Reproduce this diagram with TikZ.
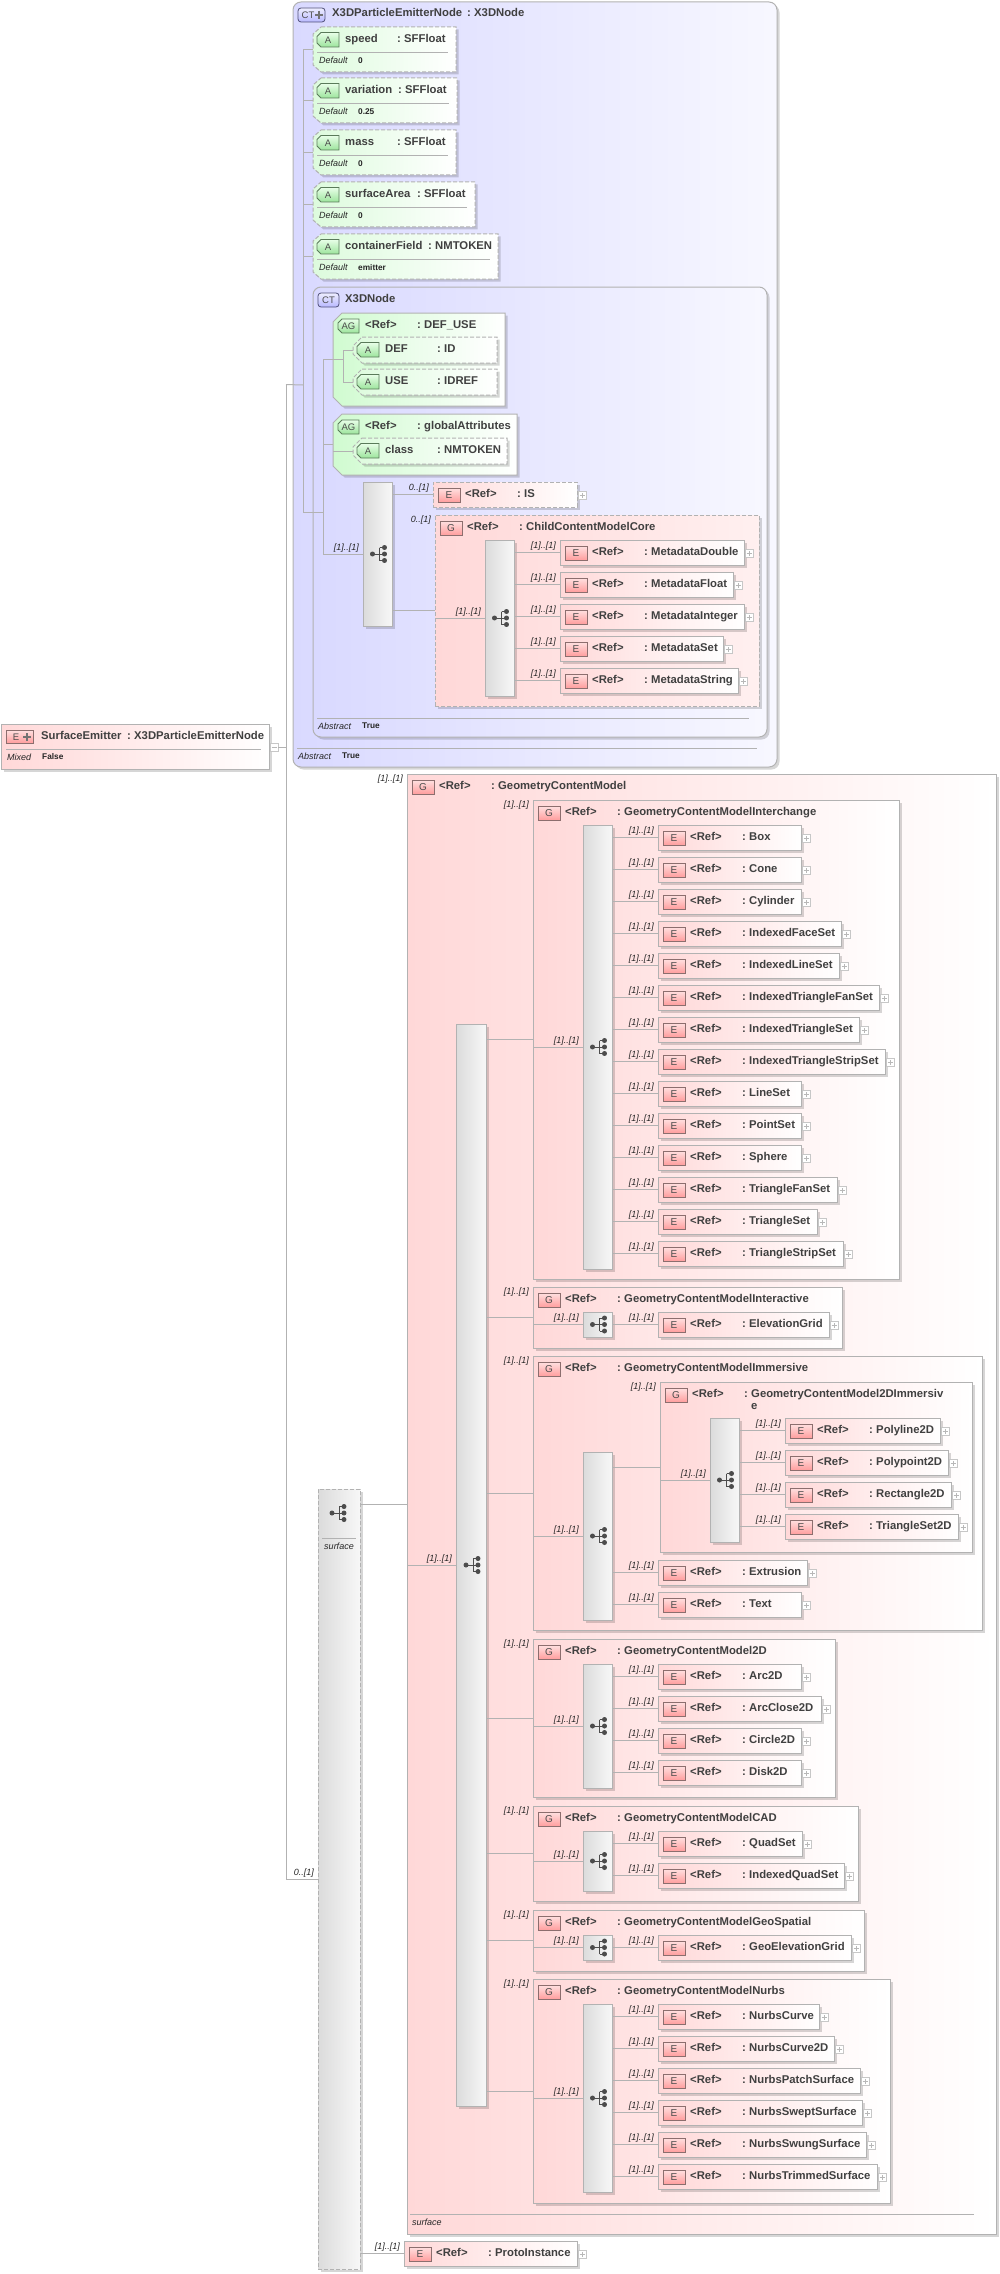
\documentclass[tikz,border=0pt]{standalone}
\usepackage{fontspec}
\setmainfont{Liberation Sans}
\usetikzlibrary{shadows}
\definecolor{boxLine}{HTML}{B2B2B2}
\definecolor{titleText}{HTML}{404040}
\definecolor{pinkLeft}{HTML}{FFD8D8}
\definecolor{blueLeft}{HTML}{D9D9FF}
\definecolor{greenLeft}{HTML}{D0FBD0}
\definecolor{attrLeft}{HTML}{DDFBDD}
%% A box from its two corners.
\newcommand{\boxNode}[7]{%%
  \pgfmathsetmacro{\boxW}{(#5)-(#3)}
  \pgfmathsetmacro{\boxH}{(#6)-(#4)}
  \node[#1,minimum width=\boxW pt,minimum height=\boxH pt] (#2) at ({((#3)+(#5))/2},{((#4)+(#6))/2}) {#7};
}
%% The same with its left corners cut off.
\newcommand{\chamferNode}[9]{%%
  \draw[#1] ({(#3)+#7},{#4}) -- ({#5},{#4}) -- ({#5},{#6}) -- ({(#3)+#7},{#6}) -- ({#3},{(#6)-#8}) -- ({#3},{(#4)+#8}) -- cycle;
  \boxNode{letterStyle}{#2}{#3}{#4}{#5}{#6}{#9}
}
\newcommand{\cardText}{[1]..[1]}
\newcommand{\attrCutX}{8}
\newcommand{\attrCutY}{7}
%% Left column, colon and right column of a title row.
\newcommand{\titleRow}[6]{%%
  \node[titleStyle] (#1-left) at (#2,#4) {#5};
  \node[titleStyle] (#1-colon) at (#3,#4) {:};
  \node[titleStyle] (#1-right) at ({#3+7},#4) {#6};
}
\newcommand{\refTitle}[4]{%%
  \boxNode{badgeStyle}{#1-badge}{#2+5}{#3+6}{#2+27}{#3+20}{#4}
}
\newcommand{\refElement}[6]{%%
  \boxNode{#1}{#2}{#3}{#4}{#5}{#4+25}{}
  \refTitle{#2}{#3}{#4}{E}
  \titleRow{#2}{#3+32}{#3+84}{#4+15}{<Ref>}{#6}
  \node[plusStyle] (#2-plus) at ({#5+5},{#4+13}) {};
}
\newcommand{\refGroup}[7]{%%
  \boxNode{#1}{#2}{#3}{#4}{#5}{#6}{}
  \refTitle{#2}{#3}{#4}{G}
  \titleRow{#2}{#3+32}{#3+84}{#4+15}{<Ref>}{#7}
}
\newcommand{\stemLink}[2]{%%
  \draw[lineStyle] (#1.east |- #2.west) -- (#2.west);
}
\newcommand{\cardLabel}[2]{%%
  \node[cardStyle] (#1-card) at ([xshift=-4pt,yshift=6pt]#1.west) {#2};
}
\newcommand{\cardTop}[2]{%%
  \node[cardStyle] (#1-card) at ([xshift=-4pt,yshift=-5pt]#1.north west) {#2};
}
\newcommand{\seqElement}[6]{%%
  \refElement{elementStyle}{#2}{#3}{#4}{#5}{#6}
  \stemLink{#1}{#2}
  \cardLabel{#2}{\cardText}
}
\newcommand{\seqGroup}[7]{%%
  \refGroup{groupStyle}{#2}{#3}{#4}{#5}{#6}{#7}
  \stemLink{#1}{#2}
  \cardTop{#2}{\cardText}
}
\newcommand{\seqIcon}[2]{%%
  \begin{scope}[shift={(#2)}]
    \draw[iconStyle] (-5,0) -- (2,0) (2,-6.5) -- (2,6.5) (2,-6.5) -- (7,-6.5) (2,0) -- (7,0) (2,6.5) -- (7,6.5);
    \fill[iconStyle] (-5,0) circle [radius=2pt] (7,-6.5) circle [radius=2pt] (7,0) circle [radius=2pt] (7,6.5) circle [radius=2pt];
  \end{scope}
}
\newcommand{\seqBlock}[6]{%%
  \boxNode{seqStyle}{#2}{#3}{#4}{#5}{#6}{}
  \seqIcon{#2}{#2.center}
  \draw[lineStyle] (#1.west |- #2.west) -- (#2.west);
  \cardLabel{#2}{\cardText}
}
%% An attribute head: the box, its badge and its row.
\newcommand{\attrHead}[9]{%%
  \chamferNode{attrStyle}{#1}{#2}{#3}{#4}{#5}{\attrCutX}{\attrCutY}{}
  \chamferNode{attrBadgeStyle}{#1-badge}{#2+4}{#3+5.5}{#2+26}{#3+20}{4}{4}{A}
  \titleRow{#1}{#2+32}{#2+#8}{#3+15.5}{#6}{#7}
  \draw[lineStyle] (#9 |- #1.west) -- (#1.west);
}
\newcommand{\defaultRow}[5]{%%
  \draw[lineStyle] ({#2+4},{#3+26}) -- ({#4-8},{#3+26});
  \node[noteStyle] (#1-key) at ({#2+6},{#3+37}) {Default};
  \node[valueStyle] (#1-value) at ({#2+45},{#3+36.5}) {#5};
}

\begin{document}
\begin{tikzpicture}[%%
  x=1pt,y=-1pt,%%
  shadowStyle/.style={drop shadow={shadow xshift=2.5pt,shadow yshift=-2.5pt,fill=black,opacity=.16}},%%
  dashStyle/.style={dash pattern=on 4pt off 2pt},%%
  lineStyle/.style={draw=boxLine,line width=1pt},%%
  boxStyle/.style={rectangle,lineStyle,inner sep=0pt,outer sep=0pt,shadowStyle},%%
  elementStyle/.style={boxStyle,left color=pinkLeft,right color=white},%%
  elementDashStyle/.style={elementStyle,dashStyle},%%
  groupStyle/.style={boxStyle,left color=pinkLeft,right color=white},%%
  groupDashStyle/.style={boxStyle,dashStyle,left color=pinkLeft,right color=red!6},%%
  typeStyle/.style={boxStyle,rounded corners=8pt,left color=blueLeft,right color=blue!3},%%
  attrGroupStyle/.style={lineStyle,shadowStyle,left color=greenLeft,right color=white},%%
  attrStyle/.style={attrGroupStyle,dashStyle,left color=attrLeft},%%
  seqStyle/.style={boxStyle,left color=black!14,right color=black!3},%%
  seqDashStyle/.style={seqStyle,dashStyle},%%
  letterStyle/.style={rectangle,inner sep=0pt,outer sep=0pt,text=black!70,font=\fontsize{9.5}{11}\selectfont},%%
  badgeStyle/.style={letterStyle,draw={rgb,255:red,140;green,110;blue,110},line width=.8pt,top color={rgb,255:red,255;green,224;blue,224},bottom color={rgb,255:red,255;green,158;blue,158},font=\fontsize{10}{12}\selectfont},%%
  typeBadgeStyle/.style={letterStyle,draw={rgb,255:red,80;green,80;blue,120},line width=.8pt,rounded corners=3pt,top color={rgb,255:red,238;green,238;blue,255},bottom color={rgb,255:red,184;green,184;blue,255}},%%
  attrBadgeStyle/.style={draw={rgb,255:red,90;green,122;blue,90},line width=.8pt,top color={rgb,255:red,232;green,255;blue,232},bottom color={rgb,255:red,156;green,228;blue,156}},%%
  titleStyle/.style={anchor=base west,inner sep=0pt,text=titleText,font=\fontsize{11.3}{13}\selectfont\bfseries},%%
  cardStyle/.style={anchor=east,inner sep=0pt,text=black!85,font=\fontsize{9}{10}\selectfont\itshape},%%
  noteStyle/.style={anchor=base west,inner sep=0pt,text=black!85,font=\fontsize{9}{10}\selectfont\itshape},%%
  valueStyle/.style={anchor=base west,inner sep=0pt,text=black!85,font=\fontsize{8.3}{10}\selectfont\bfseries},%%
  iconStyle/.style={draw=black!70,fill=black!70,line width=.9pt},%%
  plusStyle/.style={rectangle,draw=black!22,fill=white,line width=.8pt,inner sep=0pt,minimum size=8pt,%%
    path picture={\draw[black!28,line width=.8pt] ([xshift=1.5pt]path picture bounding box.west) -- ([xshift=-1.5pt]path picture bounding box.east) ([yshift=1.5pt]path picture bounding box.south) -- ([yshift=-1.5pt]path picture bounding box.north);}},%%
  minusStyle/.style={rectangle,draw=black!22,fill=white,line width=.8pt,inner sep=0pt,minimum size=8pt,%%
    path picture={\draw[black!28,line width=.8pt] ([xshift=1.5pt]path picture bounding box.west) -- ([xshift=-1.5pt]path picture bounding box.east);}},%%
  markStyle/.style={draw=black!55,line width=2pt}%%
]
\useasboundingbox (0,0) rectangle (999,2274);
%%
%% The root element.
\boxNode{elementStyle}{surfaceEmitter}{1}{724}{269}{769}{}
\boxNode{badgeStyle}{surfaceEmitter-badge}{6}{730}{33}{743}{}
\node[letterStyle] (surfaceEmitter-letter) at (16,737) {E};
\draw[markStyle] (23,737) -- (31,737) (27,733) -- (27,741);
\titleRow{surfaceEmitter}{41}{127}{739}{SurfaceEmitter}{X3DParticleEmitterNode}
\draw[lineStyle] (6,749) -- (261,749);
\node[noteStyle] (surfaceEmitter-key) at (7,760) {Mixed};
\node[valueStyle] (surfaceEmitter-value) at (42,759) {False};
\node[minusStyle] (surfaceEmitter-minus) at (274,747) {};
\coordinate (rootTree) at (286,747);
\draw[lineStyle] (surfaceEmitter-minus.east) -- (rootTree);
%%
%% The base type.
\boxNode{typeStyle}{emitterType}{293}{2}{777}{767}{}
\boxNode{typeBadgeStyle}{emitterType-badge}{298}{8}{325}{22}{}
\node[letterStyle] (emitterType-letter) at (308,15) {CT};
\draw[markStyle] (315,15) -- (323,15) (319,11) -- (319,19);
\titleRow{emitterType}{332}{467}{17}{X3DParticleEmitterNode}{X3DNode}
\coordinate (typeTree) at (303,385);
\attrHead{speed}{313}{27}{456}{72}{speed}{SFFloat}{84}{typeTree}
\defaultRow{speed}{313}{27}{456}{0}
\attrHead{variation}{313}{78}{457}{123}{variation}{SFFloat}{85}{typeTree}
\defaultRow{variation}{313}{78}{457}{0.25}
\attrHead{mass}{313}{130}{456}{175}{mass}{SFFloat}{84}{typeTree}
\defaultRow{mass}{313}{130}{456}{0}
\attrHead{surfaceArea}{313}{182}{475}{227}{surfaceArea}{SFFloat}{104}{typeTree}
\defaultRow{surfaceArea}{313}{182}{475}{0}
\attrHead{containerField}{313}{234}{498}{279}{containerField}{NMTOKEN}{115}{typeTree}
\defaultRow{containerField}{313}{234}{498}{emitter}
%%
%% The inner type.
\boxNode{typeStyle}{nodeType}{313}{287}{767}{737}{}
\boxNode{typeBadgeStyle}{nodeType-badge}{318}{293}{339}{307}{CT}
\node[titleStyle] (nodeType-left) at (345,302) {X3DNode};
\coordinate (nodeTree) at (323,512);
\draw[lineStyle] (typeTree |- speed.west) -- (typeTree |- nodeTree) -- (nodeTree);
\draw[lineStyle] (nodeTree |- 0,359) -- (nodeTree |- 0,554);
%%
\renewcommand{\attrCutX}{9}
\renewcommand{\attrCutY}{9}
\chamferNode{attrGroupStyle}{defUse}{333}{313}{505}{406}{9}{9}{}
\chamferNode{attrBadgeStyle}{defUse-badge}{338}{319}{359}{333}{4}{4}{AG}
\titleRow{defUse}{365}{417}{328}{<Ref>}{DEF\_USE}
\coordinate (defUseTree) at (343,359);
\draw[lineStyle] (nodeTree |- defUseTree) -- (defUseTree);
\attrHead{defAttr}{353}{337}{497}{363}{DEF}{ID}{84}{defUseTree}
\attrHead{useAttr}{353}{369}{497}{395}{USE}{IDREF}{84}{defUseTree}
\draw[lineStyle] (defUseTree |- defAttr.west) -- (defUseTree |- useAttr.west);
%%
\chamferNode{attrGroupStyle}{globalAttr}{333}{414}{517}{475}{9}{9}{}
\chamferNode{attrBadgeStyle}{globalAttr-badge}{338}{420}{359}{434}{4}{4}{AG}
\titleRow{globalAttr}{365}{417}{429}{<Ref>}{globalAttributes}
\draw[lineStyle] (nodeTree |- globalAttr.west) -- (globalAttr.west);
\attrHead{classAttr}{353}{438}{507}{464}{class}{NMTOKEN}{84}{globalAttr.west}
%%
\boxNode{seqStyle}{nodeSeq}{363}{482}{392}{626}{}
\seqIcon{nodeSeq}{nodeSeq.center}
\draw[lineStyle] (nodeTree |- nodeSeq.west) -- (nodeSeq.west);
\cardLabel{nodeSeq}{\cardText}
\refElement{elementDashStyle}{isElement}{433}{482}{577}{IS}
\stemLink{nodeSeq}{isElement}
\cardLabel{isElement}{0..[1]}
%%
\refGroup{groupDashStyle}{coreGroup}{435}{515}{759}{706}{ChildContentModelCore}
\stemLink{nodeSeq}{coreGroup}
\cardTop{coreGroup}{0..[1]}
\seqBlock{coreGroup}{coreSeq}{485}{540}{514}{696}
\seqElement{coreSeq}{metaDouble}{560}{540}{744}{MetadataDouble}
\seqElement{coreSeq}{metaFloat}{560}{572}{733}{MetadataFloat}
\seqElement{coreSeq}{metaInteger}{560}{604}{744}{MetadataInteger}
\seqElement{coreSeq}{metaSet}{560}{636}{723}{MetadataSet}
\seqElement{coreSeq}{metaString}{560}{668}{738}{MetadataString}
%%
\draw[lineStyle] (317,718) -- (749,718);
\node[noteStyle] (nodeType-key) at (318,729) {Abstract};
\node[valueStyle] (nodeType-value) at (362,728.5) {True};
\draw[lineStyle] (297,748) -- (757,748);
\node[noteStyle] (emitterType-key) at (298,759) {Abstract};
\node[valueStyle] (emitterType-value) at (342,758.5) {True};
%%
%% The surface choice.
\boxNode{seqDashStyle}{surfaceSeq}{318}{1489}{360}{2269}{}
\coordinate (surfaceIcon) at (337,1513);
\seqIcon{surfaceSeq}{surfaceIcon}
\draw[lineStyle] (322,1538) -- (356,1538);
\node[noteStyle,anchor=base] (surfaceSeq-key) at (339,1549) {surface};
\draw[lineStyle] (rootTree |- emitterType.west) -- (rootTree |- surfaceSeq.west) -- (surfaceSeq.west);
\draw[lineStyle] (rootTree |- emitterType.west) -- (typeTree);
\cardLabel{surfaceSeq}{0..[1]}
%%
\refGroup{groupStyle}{modelGroup}{407}{774}{996}{2234}{GeometryContentModel}
\stemLink{surfaceSeq}{modelGroup}
\cardTop{modelGroup}{\cardText}
\draw[lineStyle] (410,2214) -- (974,2214);
\node[noteStyle] (modelGroup-key) at (412,2225) {surface};
\seqBlock{modelGroup}{modelSeq}{456}{1024}{486}{2106}
%%
\seqGroup{modelSeq}{interchange}{533}{800}{899}{1279}{GeometryContentModelInterchange}
\seqBlock{interchange}{interchangeSeq}{583}{825}{612}{1269}
\seqElement{interchangeSeq}{boxEl}{658}{825}{801}{Box}
\seqElement{interchangeSeq}{coneEl}{658}{857}{801}{Cone}
\seqElement{interchangeSeq}{cylinderEl}{658}{889}{801}{Cylinder}
\seqElement{interchangeSeq}{faceSetEl}{658}{921}{841}{IndexedFaceSet}
\seqElement{interchangeSeq}{lineSetEl}{658}{953}{839}{IndexedLineSet}
\seqElement{interchangeSeq}{fanSetEl}{658}{985}{879}{IndexedTriangleFanSet}
\seqElement{interchangeSeq}{triSetEl}{658}{1017}{859}{IndexedTriangleSet}
\seqElement{interchangeSeq}{stripSetEl}{658}{1049}{885}{IndexedTriangleStripSet}
\seqElement{interchangeSeq}{plainLineEl}{658}{1081}{801}{LineSet}
\seqElement{interchangeSeq}{pointSetEl}{658}{1113}{801}{PointSet}
\seqElement{interchangeSeq}{sphereEl}{658}{1145}{801}{Sphere}
\seqElement{interchangeSeq}{plainFanEl}{658}{1177}{837}{TriangleFanSet}
\seqElement{interchangeSeq}{plainTriEl}{658}{1209}{817}{TriangleSet}
\seqElement{interchangeSeq}{plainStripEl}{658}{1241}{843}{TriangleStripSet}
%%
\seqGroup{modelSeq}{interactive}{533}{1287}{842}{1348}{GeometryContentModelInteractive}
\seqBlock{interactive}{interactiveSeq}{583}{1312}{612}{1337}
\seqElement{interactiveSeq}{elevationEl}{658}{1312}{829}{ElevationGrid}
%%
\seqGroup{modelSeq}{immersive}{533}{1356}{982}{1630}{GeometryContentModelImmersive}
\seqBlock{immersive}{immersiveSeq}{583}{1452}{612}{1620}
\seqGroup{immersiveSeq}{immersiveTwo}{660}{1382}{972}{1552}{GeometryContentModel2DImmersiv}
\node[titleStyle] (immersiveTwo-wrap) at (751,1409) {e};
\seqBlock{immersiveTwo}{immersiveTwoSeq}{710}{1418}{739}{1542}
\seqElement{immersiveTwoSeq}{polylineEl}{785}{1418}{940}{Polyline2D}
\seqElement{immersiveTwoSeq}{polypointEl}{785}{1450}{948}{Polypoint2D}
\seqElement{immersiveTwoSeq}{rectangleEl}{785}{1482}{951}{Rectangle2D}
\seqElement{immersiveTwoSeq}{triangleTwoEl}{785}{1514}{958}{TriangleSet2D}
\seqElement{immersiveSeq}{extrusionEl}{658}{1560}{807}{Extrusion}
\seqElement{immersiveSeq}{textEl}{658}{1592}{801}{Text}
%%
\seqGroup{modelSeq}{twoD}{533}{1639}{835}{1797}{GeometryContentModel2D}
\seqBlock{twoD}{twoDSeq}{583}{1664}{612}{1788}
\seqElement{twoDSeq}{arcEl}{658}{1664}{801}{Arc2D}
\seqElement{twoDSeq}{arcCloseEl}{658}{1696}{821}{ArcClose2D}
\seqElement{twoDSeq}{circleEl}{658}{1728}{801}{Circle2D}
\seqElement{twoDSeq}{diskEl}{658}{1760}{801}{Disk2D}
%%
\seqGroup{modelSeq}{cad}{533}{1806}{858}{1901}{GeometryContentModelCAD}
\seqBlock{cad}{cadSeq}{583}{1831}{612}{1891}
\seqElement{cadSeq}{quadEl}{658}{1831}{802}{QuadSet}
\seqElement{cadSeq}{indexedQuadEl}{658}{1863}{844}{IndexedQuadSet}
%%
\seqGroup{modelSeq}{geoSpatial}{533}{1910}{864}{1971}{GeometryContentModelGeoSpatial}
\seqBlock{geoSpatial}{geoSeq}{583}{1935}{612}{1960}
\seqElement{geoSeq}{geoGridEl}{658}{1935}{851}{GeoElevationGrid}
%%
\seqGroup{modelSeq}{nurbs}{533}{1979}{890}{2203}{GeometryContentModelNurbs}
\seqBlock{nurbs}{nurbsSeq}{583}{2004}{612}{2192}
\seqElement{nurbsSeq}{curveEl}{658}{2004}{819}{NurbsCurve}
\seqElement{nurbsSeq}{curveTwoEl}{658}{2036}{834}{NurbsCurve2D}
\seqElement{nurbsSeq}{patchEl}{658}{2068}{860}{NurbsPatchSurface}
\seqElement{nurbsSeq}{sweptEl}{658}{2100}{862}{NurbsSweptSurface}
\seqElement{nurbsSeq}{swungEl}{658}{2132}{866}{NurbsSwungSurface}
\seqElement{nurbsSeq}{trimmedEl}{658}{2164}{877}{NurbsTrimmedSurface}
%%
\seqElement{surfaceSeq}{protoEl}{404}{2241}{577}{ProtoInstance}
\end{tikzpicture}
\end{document}
